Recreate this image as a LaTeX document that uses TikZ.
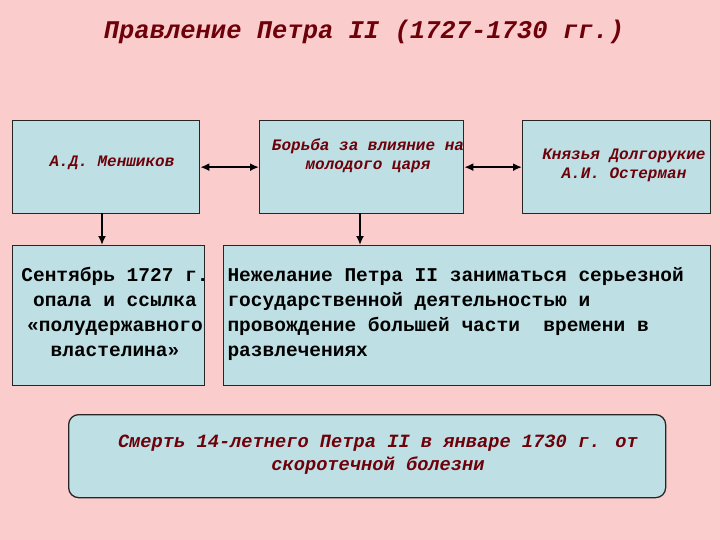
\documentclass[tikz,border=0pt]{standalone}
\usepackage{fontspec}
\setmainfont{Liberation Mono}
\usetikzlibrary{arrows.meta}
\begin{document}
\begin{tikzpicture}[x=1pt,y=-1pt,
 bx/.style={draw=black!85,line width=1.3pt,fill=boxc,anchor=north west,inner sep=0pt},
 it/.style={text=dred,font=\bfseries\itshape\fontsize{16}{19}\selectfont,align=center},
 ar/.style={line width=2pt,-{Latex[length=9pt,width=8pt]}},
 dar/.style={line width=2pt,{Latex[length=9pt,width=8pt]}-{Latex[length=9pt,width=8pt]}}]
\definecolor{bg}{RGB}{250,204,204}
\definecolor{boxc}{RGB}{190,224,228}
\definecolor{dred}{RGB}{110,0,10}
\fill[bg] (0,0) rectangle (720,540);
\useasboundingbox (0,0) rectangle (720,540);
\node[text=dred,font=\bfseries\itshape\fontsize{25.5}{28}\selectfont] (t) at (364,32) {Правление Петра II (1727-1730 гг.)};
\node[bx,minimum width=187,minimum height=93] (a) at (12,120) {};
\node[bx,minimum width=204,minimum height=93] (b) at (259,120) {};
\node[bx,minimum width=188,minimum height=93] (c) at (522,120) {};
\node[it] at (112,163) {А.Д. Меншиков};
\node[it] at (368,156) {Борьба за влияние на\\молодого царя};
\node[it] at (624,165) {Князья Долгорукие\\А.И. Остерман};
\node[bx,minimum width=192,minimum height=140] (d) at (12,245) {};
\node[bx,minimum width=487,minimum height=140] (e) at (223,245) {};
\node[font=\bfseries\fontsize{19.5}{25}\selectfont,align=center,anchor=north] at (115,264) {Сентябрь 1727 г.\\опала и ссылка\\«полудержавного\\властелина»};
\node[font=\bfseries\fontsize{19.5}{25}\selectfont,align=left,anchor=north west] at (224,264) {Нежелание Петра II заниматься серьезной\\государственной деятельностью и\\провождение большей части\ \ времени в\\развлечениях};
\node[draw=black!85,line width=1.3pt,fill=boxc,rounded corners=10pt,minimum width=597,minimum height=83,anchor=north west] (f) at (68,414) {};
\node[text=dred,font=\bfseries\itshape\fontsize{18.7}{23}\selectfont,align=center] at (378,455) {Смерть 14-летнего Петра II в январе 1730 г. от\\скоротечной болезни};
\coordinate (a1) at (102,213);
\coordinate (b1) at (360,213);
\draw[dar] (a.east) -- (b.west);
\draw[dar] (b.east) -- (c.west);
\draw[ar] (a1) -- (a1|-d.north);
\draw[ar] (b1) -- (b1|-e.north);
\end{tikzpicture}
\end{document}
